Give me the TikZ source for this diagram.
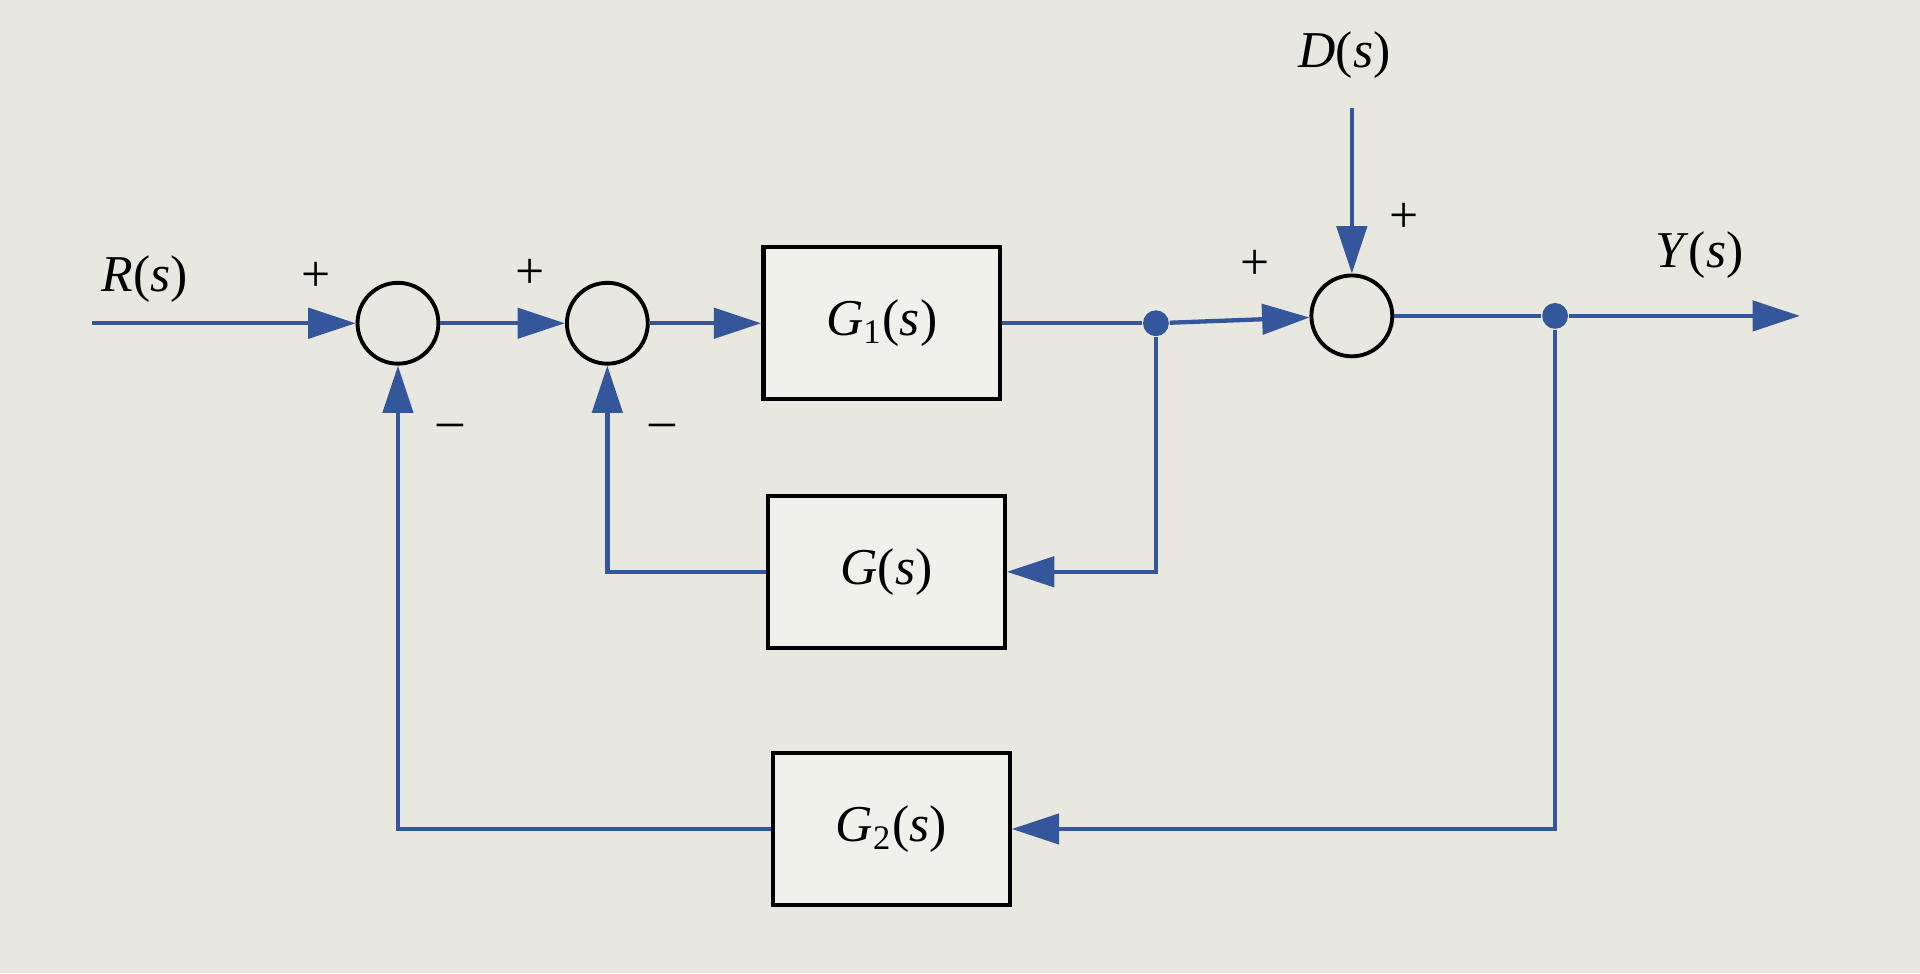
\documentclass[tikz,border=0pt]{standalone}
\usetikzlibrary{arrows.meta}
\usepackage{fontspec}
\setmainfont{Liberation Serif}
\definecolor{sigc}{HTML}{34569A}
\definecolor{bgc}{HTML}{E8E8E0}
\begin{document}
\begin{tikzpicture}[x=0.01cm,y=-0.01cm,
  sig/.style={draw=sigc, line width=1pt},
  arr/.style={sig,-{Triangle[length=11pt,width=7pt]}},
  sumj/.style={circle,draw=black,line width=0.9pt,minimum size=0.66cm,inner sep=0pt},
  blk/.style={draw=black,line width=1pt,fill=bgc!60!white,minimum width=1.93cm,minimum height=1.24cm,font=\large},
  dot/.style={circle,fill=sigc,inner sep=0pt,minimum size=6pt},
  lbl/.style={font=\large}]
\fill[bgc] (0,0) rectangle (1568,795);
\useasboundingbox (0,0) rectangle (1568,795);
\node[sumj] (s1) at (325,264) {};
\node[sumj] (s2) at (496,264) {};
\node[sumj] (s3) at (1104,258) {};
\node[blk] (g1) at (720,264) {\textit{G}\textsubscript{1}(\textit{s})};
\node[blk] (g) at (724,467) {\textit{G}(\textit{s})};
\node[blk] (g2) at (728,677) {\textit{G}\textsubscript{2}(\textit{s})};
\node[dot] (d1) at (944,264) {};
\node[dot] (d2) at (1270,258) {};
\coordinate (rin) at (75,264);
\coordinate (din) at (1104,88);
\coordinate (yout) at (1470,258);
\node[lbl] at (118,228) {\textit{R}(\textit{s})};
\node[lbl] at (1098,45) {\textit{D}(\textit{s})};
\node[lbl] at (1388,208) {\textit{Y}(\textit{s})};
\node[lbl] at (258,226) {+};
\node[lbl] at (368,352) {--};
\node[lbl] at (433,224) {+};
\node[lbl] at (541,352) {--};
\node[lbl] at (1025,216) {+};
\node[lbl] at (1147,178) {+};
\draw[arr] (rin) -- (s1);
\draw[arr] (s1) -- (s2);
\draw[arr] (s2) -- (g1);
\draw[sig] (g1) -- (d1);
\draw[arr] (d1) -- (s3);
\draw[arr] (din) -- (s3);
\draw[sig] (s3) -- (d2);
\draw[arr] (d2) -- (yout);
\draw[arr] (d1) |- (g.east);
\draw[arr] (g.west) -| (s2.south);
\draw[arr] (d2) |- (g2.east);
\draw[arr] (g2.west) -| (s1.south);
\end{tikzpicture}
\end{document}
